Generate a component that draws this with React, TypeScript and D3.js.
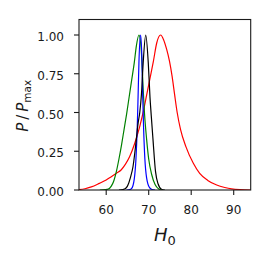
import React, { useRef, useEffect } from 'react';
import * as d3 from 'd3';

const width = 270;
const height = 262;
const margin = { top: 19.5, right: 19.3, bottom: 72, left: 79 };

// H0 grid and normalised posterior P/Pmax
const redH = [53.6, 55, 56.5, 58.4, 60, 61.2, 62.4, 63.5, 64.5, 65.5, 66.7, 67.9, 68.8, 69.5, 70.3, 71.1, 71.9, 72.8, 73.5, 74.2, 74.9, 75.5, 76.1, 76.7, 77.5, 78.75, 80.5, 82, 83.9, 86, 87.9, 89.5, 91.5, 94];
const redP = [0.003, 0.008, 0.02, 0.043, 0.064, 0.086, 0.108, 0.129, 0.165, 0.214, 0.3, 0.41, 0.515, 0.61, 0.72, 0.83, 0.95, 1.0, 0.97, 0.91, 0.83, 0.735, 0.615, 0.5, 0.39, 0.28, 0.172, 0.107, 0.062, 0.032, 0.016, 0.007, 0.002, 0];

const greenH = [58.5, 59.8, 60.5, 61.2, 61.8, 62.4, 63.0, 63.6, 64.2, 64.8, 65.4, 66.0, 66.6, 67.1, 67.7, 68.1, 68.4, 68.7, 69.0, 69.5, 70.0, 70.7, 71.5, 72.3, 73.2];
const greenP = [0, 0.002, 0.006, 0.025, 0.06, 0.12, 0.2, 0.29, 0.39, 0.49, 0.6, 0.71, 0.82, 0.93, 1.0, 0.95, 0.83, 0.65, 0.5, 0.33, 0.2, 0.1, 0.035, 0.008, 0];

const blueH = [64.8, 65.5, 66.0, 66.6, 67.0, 67.3, 67.5, 67.7, 68.1, 68.4, 68.6, 68.8, 69.1, 69.5, 70.2, 70.8, 71.5];
const blueP = [0, 0.002, 0.01, 0.07, 0.2, 0.4, 0.6, 0.82, 1.0, 0.85, 0.6, 0.4, 0.2, 0.08, 0.015, 0.003, 0];

const blackH = [63.0, 63.8, 64.3, 65.0, 65.7, 66.3, 67.1, 67.5, 67.9, 68.3, 68.7, 69.3, 69.9, 70.3, 70.6, 71.0, 71.6, 72.2, 73.0, 73.8];
const blackP = [0, 0.002, 0.006, 0.025, 0.08, 0.15, 0.33, 0.43, 0.5, 0.62, 0.82, 1.0, 0.82, 0.6, 0.48, 0.33, 0.12, 0.04, 0.005, 0];

const xTicks = [60, 70, 80, 90];
const yTicks = [0, 0.25, 0.5, 0.75, 1.0];

const series = [
  { h: redH, p: redP, color: '#ff0000' },
  { h: greenH, p: greenP, color: '#008000' },
  { h: blueH, p: blueP, color: '#0000ff' },
  { h: blackH, p: blackP, color: '#000000' },
];

const App = () => {
  const svgRef = useRef<SVGSVGElement>(null);

  useEffect(() => {
    const svg = d3.select(svgRef.current);
    svg.selectAll('*').remove();

    const x = d3.scaleLinear().domain([53.6, 94]).range([margin.left, width - margin.right]);
    const y = d3.scaleLinear().domain([0, 1.1]).range([height - margin.bottom, margin.top]);
    const x0 = margin.left, x1 = width - margin.right;
    const y0 = height - margin.bottom, y1 = margin.top;

    svg.append('clipPath').attr('id', 'plotclip')
      .append('rect').attr('x', x0).attr('y', y1).attr('width', x1 - x0).attr('height', y0 - y1);

    const line = d3.line<[number, number]>()
      .x((d) => x(d[0]))
      .y((d) => y(d[1]))
      .curve(d3.curveMonotoneX);

    const g = svg.append('g').attr('clip-path', 'url(#plotclip)');
    series.forEach((s) => {
      const pts = s.h.map((v, i) => [v, s.p[i]] as [number, number]);
      g.append('path')
        .attr('d', line(pts))
        .attr('fill', 'none')
        .attr('stroke', s.color)
        .attr('stroke-width', 1.2);
    });

    // frame
    svg.append('rect')
      .attr('x', x0).attr('y', y1)
      .attr('width', x1 - x0).attr('height', y0 - y1)
      .attr('fill', 'none').attr('stroke', '#1a1a1a').attr('stroke-width', 1.1);

    const font = '"DejaVu Sans", sans-serif';

    // x ticks
    xTicks.forEach((t) => {
      svg.append('line').attr('x1', x(t)).attr('x2', x(t)).attr('y1', y0).attr('y2', y0 + 5)
        .attr('stroke', '#1a1a1a').attr('stroke-width', 1.1);
      svg.append('text').attr('x', x(t)).attr('y', 214.3)
        .attr('text-anchor', 'middle').attr('font-family', font).attr('font-size', 12)
        .attr('fill', '#1a1a1a').text(t);
    });

    // y ticks
    yTicks.forEach((t) => {
      svg.append('line').attr('x1', x0 - 5).attr('x2', x0).attr('y1', y(t)).attr('y2', y(t))
        .attr('stroke', '#1a1a1a').attr('stroke-width', 1.1);
      svg.append('text').attr('x', 64).attr('y', y(t) + 6)
        .attr('text-anchor', 'end').attr('font-family', font).attr('font-size', 12)
        .attr('fill', '#1a1a1a').text(d3.format('.2f')(t));
    });

    // x label H_0
    const xl = svg.append('text').attr('x', (x0 + x1) / 2).attr('y', 241)
      .attr('text-anchor', 'middle').attr('font-family', font).attr('fill', '#1a1a1a');
    xl.append('tspan').attr('font-size', 18).attr('font-style', 'italic').text('H');
    xl.append('tspan').attr('font-size', 13).attr('dy', 4).text('0');

    // y label P / P_max
    const yl = svg.append('text')
      .attr('transform', `translate(28,${(y0 + y1) / 2 + 1}) rotate(-90)`)
      .attr('text-anchor', 'middle').attr('font-family', font).attr('fill', '#1a1a1a');
    yl.append('tspan').attr('font-size', 15).attr('font-style', 'italic').text('P');
    yl.append('tspan').attr('font-size', 15).text('\u2009/\u2009');
    yl.append('tspan').attr('font-size', 15).attr('font-style', 'italic').text('P');
    yl.append('tspan').attr('font-size', 10.5).attr('dy', 3).text('max');

    return () => {
      svg.selectAll('*').remove();
    };
  }, []);

  return (
    <svg
      ref={svgRef}
      width={width}
      height={height}
      style={{ position: 'absolute', left: 0, top: 0, background: '#fff' }}
    />
  );
};

export default App;
